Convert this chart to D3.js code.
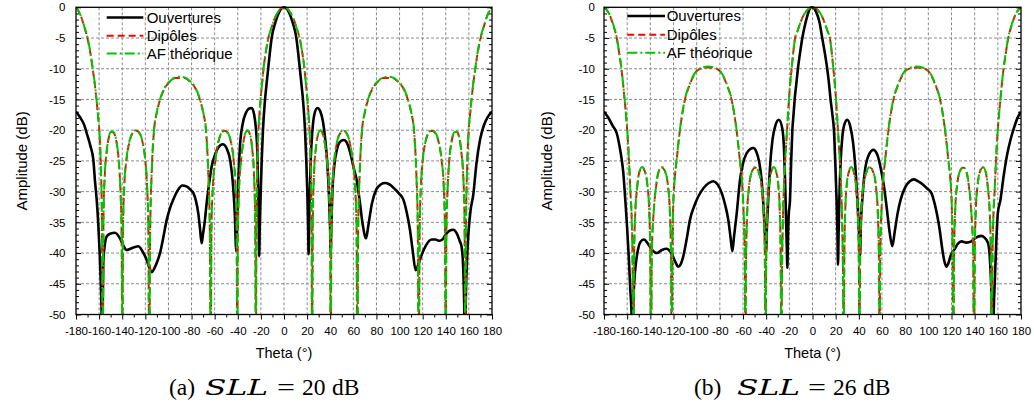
<!DOCTYPE html>
<html><head><meta charset="utf-8">
<script src="https://cdn.jsdelivr.net/npm/d3@7"></script>
<style>body{margin:0;background:#fff} svg{display:block}</style>
</head><body>
<svg id="chart" width="1034" height="407"></svg>
<script>
// ---------- tick labels ----------
const xTicks = [-180,-160,-140,-120,-100,-80,-60,-40,-20,0,20,40,60,80,100,120,140,160,180];
const yTicks = [0,-5,-10,-15,-20,-25,-30,-35,-40,-45,-50];
const seriesNames = ["Ouvertures","Dipôles","AF théorique"];

// ---------- panel (a) SLL = 20 dB : AF / dipoles on a common theta grid ----------
const gridA = [
-180,-176,-173,-170,-167,-165.5,-164,-162.5,-161,-159.8,
-158.5,-157.6,-156.9,-156.2,-155,-153.5,-151.5,-149.5,-147.5,-145,
-143,-141.5,-140.5,-139.9,-139.3,-138.2,-136.5,-134,-131,-128,
-125.5,-122.5,-120,-118.5,-117.4,-116.6,-115.8,-114.5,-112.5,-110,
-107,-103,-98,-94,-90,-86,-82,-77,-73,-70,
-67.5,-65.5,-64.2,-63.4,-62.8,-61.5,-59.5,-57,-54,-51.5,
-49,-46,-43.5,-42,-41,-40.4,-40,-39,-37.5,-35.5,
-33.5,-31.5,-29.5,-27.5,-26,-25,-24.2,-24,-23.5,-22.9,
-22.1,-21.3,-20.3,-19,-17.7,-15.5,-13.5,-11,-8,-4,
0,4,8,11,13.5,15.5,17.7,19,20.3,21.3,
22.1,22.9,23.5,24,24.2,25,26,27.5,29.5,31.5,
33.5,35.5,37.5,39,40,40.4,41,42,43.5,46,
49,51.5,54,57,59.5,61.5,62.8,63.4,64.2,65.5,
67.5,70,73,77,82,86,90,94,98,103,
107,110,112.5,114.5,115.8,116.6,117.4,118.5,120,122.5,
125.5,128,131,134,136.5,138.2,139.3,139.9,140.5,141.5,
143,145,147.5,149.5,151.5,153.5,155,156.2,156.9,157.6,
158.5,159.8,161,162.5,164,165.5,167,170,173,176,
180];
const afA = [
0,-1.3,-3,-5,-8,-10,-12,-14.5,-17.5,-20,
-26,-34,-60,-34,-27,-23.5,-21,-20.2,-20.3,-21.8,
-25,-30,-37,-60,-36,-29,-25,-22,-20.4,-20,
-20.3,-21.8,-25,-29,-36,-60,-36,-27,-20,-17,
-14.8,-13,-11.9,-11.4,-11.3,-11.4,-11.9,-13,-14.8,-17,
-20,-27,-36,-60,-36,-29,-25,-22,-20.4,-20,
-20.3,-21.8,-25,-29,-36,-60,-38,-30,-25.5,-22.3,
-20.5,-20,-20.6,-23,-27,-34,-60,-40,-30,-24,
-20,-17.5,-15,-12.5,-10,-7,-5,-3.4,-1.8,-0.45,
0,-0.45,-1.8,-3.4,-5,-7,-10,-12.5,-15,-17.5,
-20,-24,-30,-40,-60,-34,-27,-23,-20.6,-20,
-20.5,-22.3,-25.5,-30,-38,-60,-36,-29,-25,-21.8,
-20.3,-20,-20.4,-22,-25,-29,-36,-60,-36,-27,
-20,-17,-14.8,-13,-11.9,-11.4,-11.3,-11.4,-11.9,-13,
-14.8,-17,-20,-27,-36,-60,-36,-29,-25,-21.8,
-20.3,-20,-20.4,-22,-25,-29,-36,-60,-37,-30,
-25,-21.8,-20.3,-20.2,-21,-23.5,-27,-34,-60,-34,
-26,-20,-17.5,-14.5,-12,-10,-8,-5,-3,-1.3,
0];
const dipA = [
0,-1.3,-3.1,-5.1,-8.1,-10.1,-12.1,-14.6,-17.6,-20.1,
-26,-34,-60,-34,-27,-23.6,-21.1,-20.3,-20.4,-21.9,
-25,-30,-37,-60,-36,-29,-25.1,-22.1,-20.5,-20.1,
-20.4,-21.9,-25,-29,-36,-60,-36,-27,-20.1,-17.1,
-14.9,-13.1,-12,-11.5,-11.5,-11.5,-12,-13.1,-14.9,-17.1,
-20.1,-27,-36,-60,-36,-29,-25.1,-22.1,-20.5,-20.1,
-20.4,-21.9,-25,-29,-36,-60,-38,-30,-25.6,-22.4,
-20.6,-20.1,-20.7,-23.1,-27,-34,-60,-40,-30,-24,
-20,-17.5,-15,-12.5,-10,-7,-5,-3.4,-1.8,-0.45,
0,-0.45,-1.8,-3.4,-5,-7,-10,-12.5,-15,-17.5,
-20,-24,-30,-40,-60,-34,-27,-23.1,-20.7,-20.1,
-20.6,-22.4,-25.6,-30,-38,-60,-36,-29,-25,-21.9,
-20.4,-20.1,-20.5,-22.1,-25.1,-29,-36,-60,-36,-27,
-20.1,-17.1,-14.9,-13.1,-12,-11.5,-11.5,-11.5,-12,-13.1,
-14.9,-17.1,-20.1,-27,-36,-60,-36,-29,-25,-21.9,
-20.4,-20.1,-20.5,-22.1,-25.1,-29,-36,-60,-37,-30,
-25,-21.9,-20.4,-20.3,-21.1,-23.6,-27,-34,-60,-34,
-26,-20.1,-17.6,-14.6,-12.1,-10.1,-8.1,-5.1,-3.1,-1.3,
0];

// ---------- panel (a) : apertures ----------
const ouvA = [
[-180,-17],[-176.5,-17.9],[-173,-19.1],[-170.7,-20.5],[-167.5,-22.6],[-165,-24.8],[-163.6,-28.2],[-162.1,-31.3],
[-160.8,-35],[-159.5,-40],[-158.5,-45],[-157.8,-50],[-157.2,-58],[-156.8,-48],[-156.4,-41.6],[-155,-38.6],
[-153.5,-37.3],[-150,-36.8],[-146.3,-36.7],[-142,-37.6],[-139,-38.8],[-136.2,-39.5],[-133,-39.3],[-129,-39],
[-126.1,-38.9],[-122.5,-39.7],[-118.9,-41.1],[-116.5,-42.4],[-114.5,-43.1],[-112,-42.4],[-109.5,-41.3],[-107.3,-40],
[-104.5,-37.5],[-101.5,-34.6],[-98.5,-32.6],[-95.8,-31.3],[-92,-29.8],[-88,-29],[-84,-29.2],[-80.5,-29.8],
[-78.5,-30.2],[-76.2,-31.5],[-74.2,-33.5],[-72.6,-36.2],[-71.3,-38.4],[-70,-36.8],[-68.4,-34.6],[-67,-32],
[-65.5,-29.7],[-62.6,-25.9],[-59.5,-23.9],[-56.8,-22.8],[-53,-22.3],[-49.5,-23],[-46.5,-25],[-44.3,-28.5],
[-42.6,-33.5],[-41.3,-39.7],[-40.6,-36],[-39.6,-29],[-38.1,-22.6],[-36,-19.2],[-33,-17.2],[-30.5,-16.5],
[-27.9,-16.4],[-25.8,-17.5],[-24.2,-20],[-23,-24],[-22.2,-31.3],[-21.8,-35.5],[-21.5,-40.5],[-21,-36],
[-20.3,-31],[-19.3,-25],[-18.2,-20],[-16.4,-15],[-15.1,-12.5],[-13.7,-10],[-12.3,-7.5],[-10.7,-5],
[-7.5,-2.5],[-4,-0.7],[0,0],[4,-0.7],[7.5,-2.5],[10.7,-5],[12.3,-7.5],[13.7,-10],
[15.1,-12.5],[16.4,-15],[18.2,-20],[19.3,-25],[20.3,-31],[20.9,-36],[21.3,-40.2],[21.7,-35.5],
[22.3,-30],[23.2,-24.5],[24.5,-20.3],[26.3,-17.4],[28.9,-16.4],[31.3,-16.9],[33.7,-18.6],[35.7,-21.5],
[37.5,-25.5],[38.9,-30.5],[39.9,-36],[40.4,-39.7],[41,-35],[42,-29.5],[43.5,-25.8],[46,-23],
[49,-21.8],[51.9,-21.6],[55,-22.3],[58,-24.2],[60.5,-26.3],[62.9,-28.1],[65.5,-31.5],[68,-35.2],
[71,-37.6],[73,-35.5],[76,-32],[80,-29.6],[84,-28.8],[87.4,-28.6],[91,-28.8],[96,-29.6],
[100,-30.4],[103.3,-31.3],[106,-33.2],[109,-36.2],[111.5,-39.8],[113.9,-42.8],[116,-42],[119.1,-40.3],
[123,-38.7],[127.7,-37.8],[131,-37.8],[134,-38],[136.4,-37.9],[140,-37],[143,-36.4],[146.5,-36.2],
[149.5,-36.8],[152,-38],[153.7,-39],[155,-42],[155.9,-48],[156.6,-58],[157.3,-48],[158.4,-41],
[159.7,-36.5],[161.5,-33],[163.8,-30.5],[166.5,-25.5],[169.6,-21.6],[173,-19.2],[176.5,-17.8],[180,-17]];

// ---------- panel (b) SLL = 26 dB : AF / dipoles on a common theta grid ----------
const gridB = [
-180,-176,-172,-168.9,-166.8,-164.9,-162.2,-161,-159.9,-158.5,
-157.2,-156,-155.3,-154.6,-154,-152.9,-151.5,-149.6,-147,-144.4,
-142.5,-141,-140.1,-139.4,-138.7,-137,-135.3,-133,-130,-127,
-124.8,-123.2,-122.2,-121.5,-121,-120.2,-119,-117.4,-114.5,-110.2,
-106,-100,-95,-90,-85,-80,-74,-69.8,-65.5,-62.6,
-61,-59.8,-58.5,-57.9,-57.4,-56.5,-55,-52.5,-49.5,-46.5,
-44,-42.2,-41.2,-40.5,-40,-39.2,-37.8,-36,-33.5,-31,
-29.5,-28.3,-27.5,-26.9,-26.4,-25.6,-24.6,-23.6,-22.8,-22,
-21.2,-20.3,-19.3,-18,-16.7,-15,-13,-11,-8,-4,
0,4,8,11,13,15,16.7,18,19.3,20.3,
21.2,22,22.8,23.6,24.6,25.6,26.4,26.9,27.5,28.3,
29.5,31,33.5,36,37.8,39.2,40,40.5,41.2,42.2,
44,46.5,49.5,52.5,55,56.5,57.4,57.9,58.5,59.8,
61,62.6,65.5,69.8,74,80,85,90,95,100,
106,110.2,114.5,117.4,119,120.2,121,121.5,122.2,123.2,
124.8,127,130,133,135.3,137,138.7,139.4,140.1,141,
142.5,144.4,147,149.6,151.5,152.9,154,154.6,155.3,156,
157.2,158.5,159.9,161,162.2,164.9,166.8,168.9,172,176,
180];
const afB = [
0,-0.9,-2.8,-5,-7.5,-10,-15,-17.5,-20,-24.5,
-30,-35,-42,-60,-40,-33,-29.5,-26.8,-26,-26.8,
-29,-33,-40,-60,-40,-33,-29.5,-26.8,-26,-26.8,
-29,-33,-40,-60,-40,-32,-28,-25,-20,-15,
-12.5,-10.3,-9.8,-9.65,-9.8,-10.3,-12.5,-15,-20,-25,
-28,-32,-40,-60,-42,-34,-29.5,-26.8,-26,-26.8,
-29,-33,-40,-60,-42,-34,-29.5,-27,-26,-27,
-29,-33,-40,-60,-45,-35,-29,-25,-22.5,-20,
-17.5,-15,-12.5,-10,-7.5,-5,-3.9,-2.8,-1.4,-0.35,
0,-0.35,-1.4,-2.8,-3.9,-5,-7.5,-10,-12.5,-15,
-17.5,-20,-22.5,-25,-29,-35,-45,-60,-40,-33,
-29,-27,-26,-27,-29.5,-34,-42,-60,-40,-33,
-29,-26.8,-26,-26.8,-29.5,-34,-42,-60,-40,-32,
-28,-25,-20,-15,-12.5,-10.3,-9.8,-9.65,-9.8,-10.3,
-12.5,-15,-20,-25,-28,-32,-40,-60,-40,-33,
-29,-26.8,-26,-26.8,-29.5,-33,-40,-60,-40,-33,
-29,-26.8,-26,-26.8,-29.5,-33,-40,-60,-42,-35,
-30,-24.5,-20,-17.5,-15,-10,-7.5,-5,-2.8,-0.9,
0];
const dipB = [
0,-0.9,-2.9,-5.1,-7.6,-10.1,-15.1,-17.6,-20.1,-24.6,
-30,-35,-42,-60,-40,-33,-29.6,-26.9,-26.1,-26.9,
-29,-33,-40,-60,-40,-33,-29.6,-26.9,-26.1,-26.9,
-29,-33,-40,-60,-40,-32,-28,-25.1,-20.1,-15.1,
-12.6,-10.4,-9.9,-9.8,-9.9,-10.4,-12.6,-15.1,-20.1,-25.1,
-28,-32,-40,-60,-42,-34,-29.6,-26.9,-26.1,-26.9,
-29,-33,-40,-60,-42,-34,-29.6,-27.1,-26.1,-27.1,
-29,-33,-40,-60,-45,-35,-29,-25,-22.5,-20,
-17.5,-15,-12.5,-10,-7.5,-5,-3.9,-2.8,-1.4,-0.35,
0,-0.35,-1.4,-2.8,-3.9,-5,-7.5,-10,-12.5,-15,
-17.5,-20,-22.5,-25,-29,-35,-45,-60,-40,-33,
-29,-27.1,-26.1,-27.1,-29.6,-34,-42,-60,-40,-33,
-29,-26.9,-26.1,-26.9,-29.6,-34,-42,-60,-40,-32,
-28,-25.1,-20.1,-15.1,-12.6,-10.4,-9.9,-9.8,-9.9,-10.4,
-12.6,-15.1,-20.1,-25.1,-28,-32,-40,-60,-40,-33,
-29,-26.9,-26.1,-26.9,-29.6,-33,-40,-60,-40,-33,
-29,-26.9,-26.1,-26.9,-29.6,-33,-40,-60,-42,-35,
-30,-24.6,-20.1,-17.6,-15.1,-10.1,-7.6,-5.1,-2.9,-0.9,
0];

// ---------- panel (b) : apertures ----------
const ouvB = [
[-180,-17],[-176.5,-17.9],[-172.5,-19.3],[-169,-20.5],[-166.5,-22.7],[-164.7,-24.8],[-163.3,-27],[-162.3,-29.5],
[-161.2,-32.5],[-160,-36],[-158.5,-41],[-157.3,-46],[-156.2,-50],[-155.6,-58],[-155,-50],[-153.8,-44.5],
[-152.4,-41.6],[-150.5,-39.3],[-148.9,-38.3],[-145.5,-37.8],[-142,-38.5],[-138.8,-39.4],[-134.5,-40],[-130,-39.5],
[-126,-39.3],[-123.5,-39.6],[-121.6,-40.1],[-118.5,-41.4],[-115.9,-42.2],[-113.5,-41.7],[-111.5,-40.5],[-108.5,-37.6],
[-105.8,-34.6],[-102,-32.3],[-98.6,-30.8],[-94,-29.4],[-89.5,-28.6],[-85.6,-28.3],[-82,-28.8],[-78.4,-30.2],
[-75.5,-32.1],[-72.7,-34.6],[-70.8,-37.4],[-69.2,-39.7],[-67.8,-37.4],[-65.4,-33.5],[-62.6,-28.1],[-60,-25.4],
[-57,-23.8],[-54,-23.1],[-51.1,-22.9],[-48.5,-23.5],[-46,-25.2],[-44,-28],[-42.3,-32.5],[-41,-37],
[-40.2,-40],[-39.3,-35.5],[-38,-30.5],[-36.5,-25.5],[-34.5,-21.5],[-32,-19.2],[-29,-18.3],[-26,-19.8],
[-24.5,-23.5],[-23.7,-28],[-22.9,-34],[-22.2,-39],[-21.7,-42.4],[-21.2,-37.5],[-20.6,-34],[-19.4,-31.3],
[-18.4,-25],[-17.4,-20],[-16.4,-17.5],[-15.4,-15],[-14,-12.5],[-12.6,-10],[-10.8,-7.5],[-8.8,-5],
[-6,-2.5],[-3.5,-0.8],[-1,0],[1,-0.1],[3,-0.7],[6,-2.4],[8.4,-5],[10.7,-7.5],
[12.7,-10],[14.3,-12.5],[15.6,-15],[17.2,-17.5],[18.5,-20],[19.6,-25],[20.8,-31.3],[21.5,-36.5],
[22,-41.9],[22.6,-36],[23.2,-31],[24.2,-25.5],[25.8,-21],[28,-18.8],[30,-18.3],[32.5,-19.3],
[35,-22],[37,-26],[38.7,-31.3],[40,-36],[41,-40.5],[41.8,-35],[43,-31.3],[45,-27],
[48,-24.3],[52.5,-23.2],[56,-24],[59,-26.3],[61.7,-29.1],[64,-32.5],[66.5,-36.5],[68.9,-38.9],
[71,-36.5],[73.5,-33.5],[76.1,-31.3],[80,-29.3],[84,-28.3],[87.6,-28],[91,-28.3],[95,-28.8],
[99,-29.5],[102.6,-30.2],[105.5,-32],[107.8,-34],[109.8,-36.2],[112,-39.3],[113.8,-41.3],[115.5,-42.2],
[117.2,-41.7],[119,-40.6],[120.8,-39.8],[122.7,-39.4],[125,-38.6],[128.5,-38.1],[133,-38.3],[137.1,-38.1],
[141,-37.5],[145.7,-37.2],[148.5,-37.5],[151.4,-38.3],[153,-40.5],[154.2,-45],[155,-50],[155.7,-58],
[156.4,-50],[157.5,-44],[158.7,-38],[160,-33.5],[162.3,-31.3],[165,-27.5],[168,-24],[170.9,-21.6],
[174,-19.6],[177,-18],[180,-17]];

// ---------- drawing ----------
const svg = d3.select('#chart');
const SANS = '"Liberation Sans", Arial, Helvetica, sans-serif';
const SERIF = '"Liberation Serif", "Times New Roman", serif';
const yTop = 7.3, yBot = 314.5;
const colBlack = '#000', colRed = '#ff0000', colGreen = '#00c400';

const panels = [
  {id:'a', x0:76, x1:492, grid:gridA, af:afA, dip:dipA, ouv:ouvA, labPad:10.5, yLabX:22,
   leg:{l0:106.7, l1:143.3, tx:146.7, rows:[17.5,35.8,53.5]},
   cap:{tag:'(a)', val:'20', xs:[169,205,277,302,332]}},
  {id:'b', x0:604, x1:1021, grid:gridB, af:afB, dip:dipB, ouv:ouvB, labPad:9, yLabX:547,
   leg:{l0:627.3, l1:665, tx:666.7, rows:[16,34.8,52.8]},
   cap:{tag:'(b)', val:'26', xs:[694,737,808,833,863]}}
];

const defs = svg.append('defs');

panels.forEach(p => {
  const x = d3.scaleLinear().domain([-180,180]).range([p.x0,p.x1]);
  const y = d3.scaleLinear().domain([-50,0]).range([yBot,yTop]);
  const g = svg.append('g');

  defs.append('clipPath').attr('id','clip'+p.id).append('rect')
    .attr('x',p.x0).attr('y',yTop-4).attr('width',p.x1-p.x0).attr('height',yBot-yTop+4);

  // grid
  const gx = d3.range(-160,161,20), gy = d3.range(-45,-4,5);
  g.append('g').selectAll('line').data(gx).join('line')
    .attr('x1',d=>x(d)).attr('x2',d=>x(d)).attr('y1',yTop).attr('y2',yBot)
    .attr('stroke','#8c8c8c').attr('stroke-width',1).attr('stroke-dasharray','3,2');
  g.append('g').selectAll('line').data(gy).join('line')
    .attr('y1',d=>y(d)).attr('y2',d=>y(d)).attr('x1',p.x0).attr('x2',p.x1)
    .attr('stroke','#8c8c8c').attr('stroke-width',1).attr('stroke-dasharray','3,2');

  // curves
  const line = d3.line().x(d=>x(d[0])).y(d=>y(d[1])).curve(d3.curveMonotoneX);
  const cg = g.append('g').attr('clip-path','url(#clip'+p.id+')');
  cg.append('path').datum(p.ouv).attr('d',line)
    .attr('fill','none').attr('stroke',colBlack).attr('stroke-width',2.6).attr('stroke-linejoin','round');
  cg.append('path').datum(p.grid.map((t,i)=>[t,p.dip[i]])).attr('d',line)
    .attr('fill','none').attr('stroke',colRed).attr('stroke-width',1.9).attr('stroke-dasharray','7,4');
  cg.append('path').datum(p.grid.map((t,i)=>[t,p.af[i]])).attr('d',line)
    .attr('fill','none').attr('stroke',colGreen).attr('stroke-width',2).attr('stroke-dasharray','10,3,2,3');

  // axes
  const fmt = d => String(d);
  const xMinor = d3.range(-170,171,20);
  const yMinor = d3.range(-49,0,1).filter(v => v % 5 !== 0);
  const styleAxis = sel => { sel.select('.domain').remove(); sel.selectAll('line').attr('stroke','#000').attr('stroke-width',1); };

  const bx = g.append('g').attr('transform',`translate(0,${yBot})`)
    .call(d3.axisBottom(x).tickValues(xTicks).tickSize(5).tickPadding(7).tickFormat(fmt)).call(styleAxis);
  bx.selectAll('text').attr('font-family',SANS).attr('font-size','11.5px').attr('fill','#000');
  g.append('g').attr('transform',`translate(0,${yBot})`)
    .call(d3.axisBottom(x).tickValues(xMinor).tickSize(3).tickFormat('')).call(styleAxis);

  const ly = g.append('g').attr('transform',`translate(${p.x0},0)`)
    .call(d3.axisLeft(y).tickValues(yTicks).tickSize(-5).tickPadding(p.labPad).tickFormat(fmt)).call(styleAxis);
  ly.selectAll('text').attr('font-family',SANS).attr('font-size','11.5px').attr('fill','#000');
  g.append('g').attr('transform',`translate(${p.x0},0)`)
    .call(d3.axisLeft(y).tickValues(yMinor).tickSize(-3).tickFormat('')).call(styleAxis);
  g.append('g').attr('transform',`translate(${p.x1},0)`)
    .call(d3.axisRight(y).tickValues(yTicks).tickSize(-5).tickFormat('')).call(styleAxis);
  g.append('g').attr('transform',`translate(${p.x1},0)`)
    .call(d3.axisRight(y).tickValues(yMinor).tickSize(-3).tickFormat('')).call(styleAxis);

  // frame
  g.append('rect').attr('x',p.x0).attr('y',yTop).attr('width',p.x1-p.x0).attr('height',yBot-yTop)
    .attr('fill','none').attr('stroke','#000').attr('stroke-width',1.3);

  // axis titles
  g.append('text').attr('transform',`translate(${p.yLabX},${(yTop+yBot)/2}) rotate(-90)`)
    .attr('text-anchor','middle').attr('dy','0.35em')
    .attr('font-family',SANS).attr('font-size','15px').text('Amplitude (dB)');
  g.append('text').attr('x',(p.x0+p.x1)/2).attr('y',358).attr('text-anchor','middle')
    .attr('font-family',SANS).attr('font-size','14.5px').text('Theta (°)');

  // legend
  const styles = [
    {c:colBlack, w:2.6, d:null},
    {c:colRed, w:1.9, d:'7,4'},
    {c:colGreen, w:2, d:'10,3,2,3'}];
  seriesNames.forEach((name,i) => {
    const ry = p.leg.rows[i];
    g.append('line').attr('x1',p.leg.l0).attr('x2',p.leg.l1).attr('y1',ry).attr('y2',ry)
      .attr('stroke',styles[i].c).attr('stroke-width',styles[i].w)
      .attr('stroke-dasharray',styles[i].d);
    g.append('text').attr('x',p.leg.tx).attr('y',ry).attr('dy','0.36em')
      .attr('font-family',SANS).attr('font-size','15px').text(name);
  });

  // caption
  const c = p.cap, base = 395;
  const t = g.append('text').attr('y',base).attr('font-family',SERIF).attr('font-size','23.5px').attr('fill','#000');
  t.append('tspan').attr('x',c.xs[0]).text(c.tag);
  t.append('tspan').attr('x',c.xs[1]).attr('font-style','italic').attr('font-family','"DejaVu Serif", serif')
    .attr('font-size','22px').attr('textLength',63).attr('lengthAdjust','spacingAndGlyphs').text('SLL');
  t.append('tspan').attr('x',c.xs[2]).attr('textLength',18).attr('lengthAdjust','spacingAndGlyphs').text('=');
  t.append('tspan').attr('x',c.xs[3]).text(c.val);
  t.append('tspan').attr('x',c.xs[4]).text('dB');
});
</script>
</body></html>
